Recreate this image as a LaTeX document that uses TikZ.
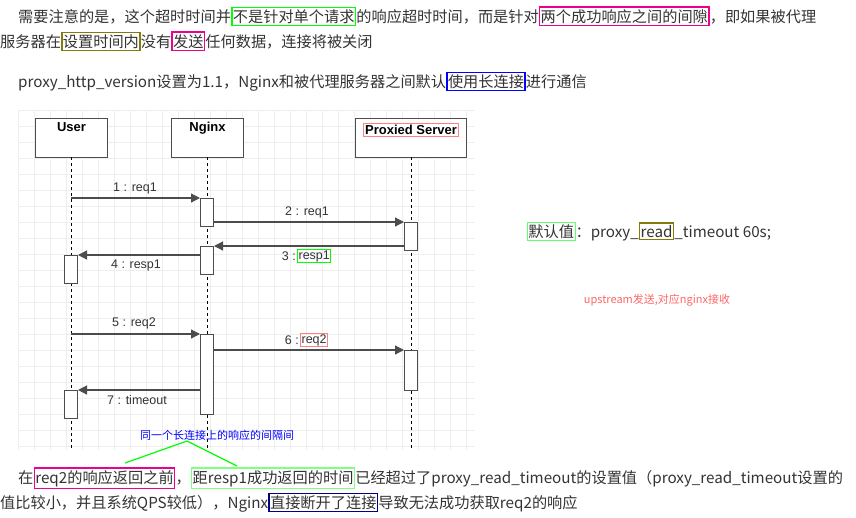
\documentclass[tikz,border=0pt]{standalone}
\usepackage{fontspec}
\usetikzlibrary{arrows.meta}
\setmainfont{Noto Sans CJK SC}
\newfontfamily\lat{Liberation Sans}
\begin{document}
\begin{tikzpicture}[x=1pt,y=-1pt,
  t/.style={anchor=base west,inner xsep=0pt,inner ysep=2pt,text=txt,font=\fontsize{15.2}{18}\selectfont},
  bx/.style={t,draw=#1,line width=1.4pt,inner xsep=1pt},
  obj/.style={draw=gray!60!black,line width=1pt,fill=white,minimum width=72pt,minimum height=39pt,anchor=north west,text depth=22pt,font=\lat\bfseries\fontsize{13}{15}\selectfont},
  act/.style={draw=gray!60!black,line width=1pt,fill=white},
  life/.style={dashed,line width=0.8pt},
  msg/.style={draw=gray!60!black,line width=1.2pt,-{Triangle[length=9pt,width=9pt]}},
  lab/.style={text=txt,font=\lat\fontsize{12.5}{14}\selectfont,inner sep=1pt}]
\definecolor{txt}{HTML}{333333}
\definecolor{grid}{HTML}{EEEEEE}
\useasboundingbox (0,0) rectangle (856,517);
% text line 1
\node[t] (a1) at (18,22) {需要注意的是，这个超时时间并};
\node[bx=green] (a2) at (a1.base east) {不是针对单个请求};
\node[t] (a3) at (a2.base east) {的响应超时时间，而是针对};
\node[bx=magenta] (a4) at (a3.base east) {两个成功响应之间的间隙};
\node[t] (a5) at (a4.base east) {，即如果被代理};
\node[t] (b1) at (0,47) {服务器在};
\node[bx={olive!90!black}] (b2) at (b1.base east) {设置时间内};
\node[t] (b3) at (b2.base east) {没有};
\node[bx=magenta] (b4) at (b3.base east) {发送};
\node[t] (b5) at (b4.base east) {任何数据，连接将被关闭};
\node[t] (c1) at (18,87) {proxy\_http\_version设置为1.1，Nginx和被代理服务器之间默认};
\node[bx=blue] (c2) at (c1.base east) {使用长连接};
\node[t] (c3) at (c2.base east) {进行通信};
% grid
\foreach \gx in {18,34,...,474} \draw[grid,line width=0.6pt] (\gx,110) -- (\gx,450);
\foreach \gy in {110,126,...,450} \draw[grid,line width=0.6pt] (18,\gy) -- (475,\gy);
% objects
\node[obj] (user) at (35,118) {User};
\node[obj] (ngx) at (171,118) {Nginx};
\node[obj,minimum width=111pt] (srv) at (355,118) {};
\node[draw={red!50},line width=1.2pt,inner sep=1.5pt,font=\lat\bfseries\fontsize{13}{15}\selectfont] (srvt) at (411,130) {Proxied Server};
\coordinate (u1) at (71,157); \coordinate (u2) at (71,450);
\coordinate (n1) at (207,157); \coordinate (n2) at (207,450);
\coordinate (s1) at (411,157); \coordinate (s2) at (411,450);
\draw[life] (u1)--(u2); \draw[life] (n1)--(n2); \draw[life] (s1)--(s2);
% activations
\node[act,anchor=north west,minimum width=13pt,minimum height=28pt,inner sep=0] (na1) at (200,198) {};
\node[act,anchor=north west,minimum width=13pt,minimum height=28pt,inner sep=0] (sa1) at (404,222) {};
\node[act,anchor=north west,minimum width=13pt,minimum height=28pt,inner sep=0] (na2) at (200,246) {};
\node[act,anchor=north west,minimum width=13pt,minimum height=28pt,inner sep=0] (ua1) at (64,255) {};
\node[act,anchor=north west,minimum width=13pt,minimum height=80pt,inner sep=0] (na3) at (200,334) {};
\node[act,anchor=north west,minimum width=13pt,minimum height=40pt,inner sep=0] (sa2) at (404,350) {};
\node[act,anchor=north west,minimum width=13pt,minimum height=28pt,inner sep=0] (ua2) at (64,390) {};
% messages
\coordinate (m1) at (71,198);
\draw[msg] (m1) -- (na1.north west);
\draw[msg] (na1.east |- sa1.north) -- (sa1.north west);
\draw[msg] (sa1.south west |- na2.north) -- (na2.north east);
\draw[msg] (na2.west |- ua1.north) -- (ua1.north east);
\coordinate (m5) at (71,334);
\draw[msg] (m5) -- (na3.north west);
\draw[msg] (na3.east |- sa2.north) -- (sa2.north west);
\draw[msg] (na3.west |- ua2.north) -- (ua2.north east);
\node[lab] (l1) at (135,188) {1 : req1};
\node[lab] (l2) at (307,212) {2 : req1};
\node[lab,anchor=east] (l3) at (297,256) {3 :};
\node[lab,draw=green,line width=1.2pt,anchor=west] (l3b) at (297,256) {resp1};
\node[lab] (l4) at (136,265) {4 : resp1};
\node[lab] (l5) at (134,323) {5 : req2};
\node[lab,anchor=east] (l6) at (300,340) {6 :};
\node[lab,draw={red!50},line width=1.2pt,anchor=west] (l6b) at (300,340) {req2};
\node[lab] (l7) at (137,400) {7 : timeout};
\node[text=blue,font=\fontsize{11}{13}\selectfont,inner sep=1pt] (note) at (217,435) {同一个长连接上的响应的间隔间};
\coordinate (apex) at (187,441);
\coordinate (g1) at (125,463); \coordinate (g2) at (237,466);
\draw[green,line width=1.2pt] (g1) -- (apex) -- (g2);
% right side
\node[bx={green!60},line width=0.8pt] (d1) at (527,237) {默认值};
\node[t] (d2) at (d1.base east) {：proxy\_};
\node[bx={olive!90!black},line width=1.2pt] (d3) at (d2.base east) {read};
\node[t] (d4) at (d3.base east) {\_timeout 60s;};
\node[text={red!60},font=\fontsize{11}{13}\selectfont] (up) at (657,300) {upstream发送,对应nginx接收};
% bottom
\node[t] (e1) at (18,483) {在};
\node[bx=magenta] (e2) at (e1.base east) {req2的响应返回之前};
\node[t] (e3) at (e2.base east) {，};
\node[bx={green!50}] (e4) at (e3.base east) {距resp1成功返回的时间};
\node[t] (e5) at (e4.base east) {已经超过了proxy\_read\_timeout的设置值（proxy\_read\_timeout设置的};
\node[t] (f1) at (0,508) {值比较小，并且系统QPS较低），Nginx};
\node[bx={blue!50!black}] (f2) at (f1.base east) {直接断开了连接};
\node[t] (f3) at (f2.base east) {导致无法成功获取req2的响应};
\end{tikzpicture}
\end{document}
